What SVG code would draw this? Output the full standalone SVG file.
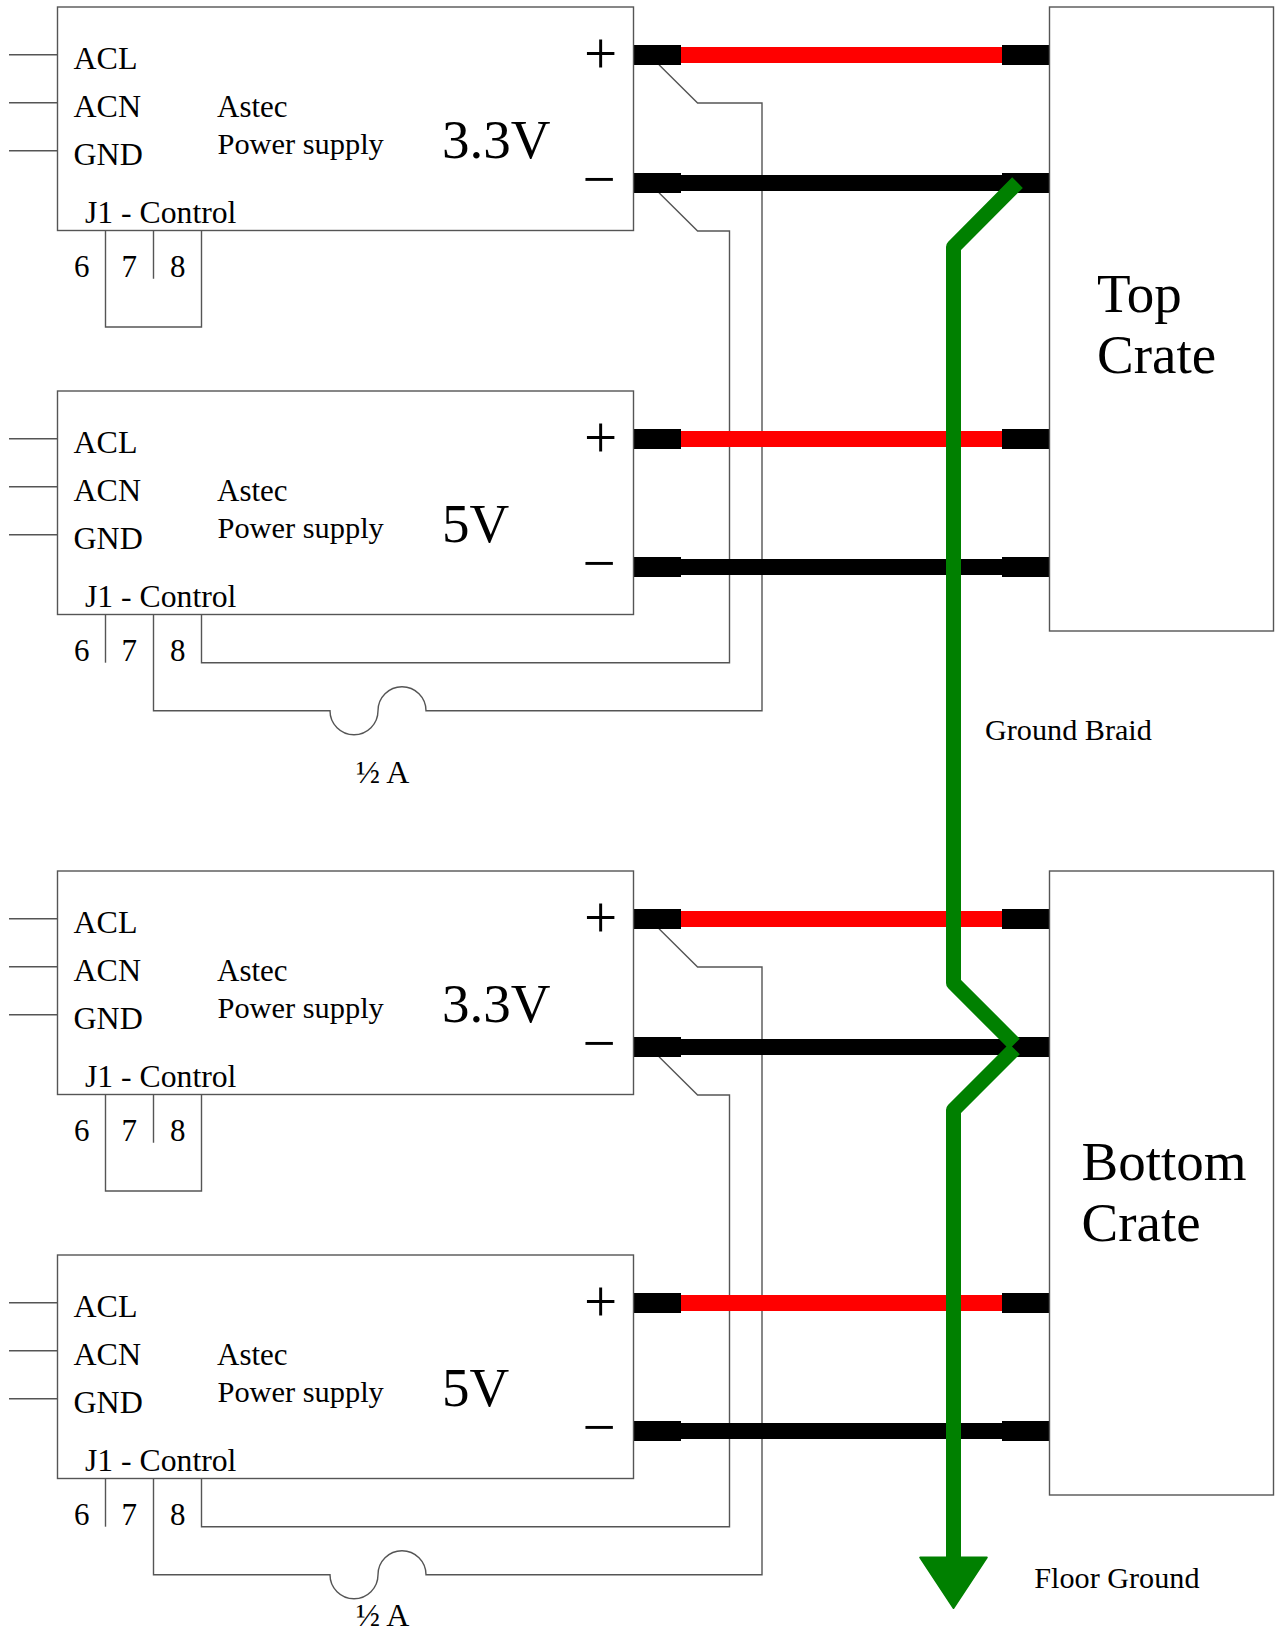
<svg xmlns="http://www.w3.org/2000/svg" width="1277" height="1633" viewBox="0 0 1277 1633">
<style>
text{font-family:"Liberation Serif","Times New Roman",serif;fill:#000}
.s{font-size:32px}
.j{font-size:31.7px}
.p{font-size:30.4px}
.a{font-size:31px}
.n{font-size:31px}
.b{font-size:55px}
.o{font-size:59px}
.l{font-size:30.2px}
.t{fill:none;stroke:#555;stroke-width:1.4}
.box{fill:#fff;stroke:#555;stroke-width:1.4}
.blk{fill:none;stroke:#000;stroke-width:16}
.red{fill:none;stroke:#f00;stroke-width:16}
.lug{fill:#000}
.gnd{fill:none;stroke:#008000;stroke-width:15;stroke-linejoin:round}
</style>
<rect width="1277" height="1633" fill="#fff"/>
<g id="connectors">
<g id="control-wires">
<path class="t" d="M659 64.7L697.6 103H762V710.7H426A24 24 0 0 0 378 710.7A24 24 0 0 1 330 710.7H153.5V614"/>
<path class="t" d="M659 192.7L697.6 231H729.5V662.7H201.5V614"/>
<path class="t" d="M659 928.7L697.6 967H762V1574.7H426A24 24 0 0 0 378 1574.7A24 24 0 0 1 330 1574.7H153.5V1478"/>
<path class="t" d="M659 1056.7L697.6 1095H729.5V1526.7H201.5V1478"/>
</g>
<g id="power-wires">
<path class="red" d="M681 55H1002M681 439H1002M681 919H1002M681 1303H1002"/>
<path class="blk" d="M681 183H1002M681 567H1002M681 1047H1002M681 1431H1002"/>
<g class="lug">
<rect x="633.5" y="45" width="47.5" height="20"/><rect x="1002" y="45" width="47.5" height="20"/>
<rect x="633.5" y="173" width="47.5" height="20"/><rect x="1002" y="173" width="47.5" height="20"/>
<rect x="633.5" y="429" width="47.5" height="20"/><rect x="1002" y="429" width="47.5" height="20"/>
<rect x="633.5" y="557" width="47.5" height="20"/><rect x="1002" y="557" width="47.5" height="20"/>
<rect x="633.5" y="909" width="47.5" height="20"/><rect x="1002" y="909" width="47.5" height="20"/>
<rect x="633.5" y="1037" width="47.5" height="20"/><rect x="1002" y="1037" width="47.5" height="20"/>
<rect x="633.5" y="1293" width="47.5" height="20"/><rect x="1002" y="1293" width="47.5" height="20"/>
<rect x="633.5" y="1421" width="47.5" height="20"/><rect x="1002" y="1421" width="47.5" height="20"/>
</g>
</g>
<g id="ground-braid">
<path class="gnd" d="M1017.5 182.6L953.5 247V983L1014.5 1044"/>
<path class="gnd" d="M1014.5 1049L953.5 1110V1558"/>
<path d="M920.2 1557.5H986.8L953.5 1608Z" fill="#008000" stroke="#008000" stroke-width="2" stroke-linejoin="round"/>
</g>
</g>
<g id="psu-top-33">
<path class="t" d="M9 54.7H57.5M9 102.7H57.5M9 150.7H57.5"/>
<rect class="box" x="57.5" y="7" width="576" height="223.5"/>
<path class="t" d="M105.5 230.5V327H201.5V230.5M153.5 230.5V278.7"/>
<text class="s" x="73.5" y="68.5">ACL</text><text class="s" x="73.5" y="116.5">ACN</text><text class="s" x="73.5" y="165">GND</text>
<text class="a" x="217" y="116.5">Astec</text><text class="p" x="217.5" y="153.5">Power supply</text>
<text class="b" x="442" y="157.5">3.3V</text>
<text class="o" x="584" y="73.3">+</text><text class="o" x="582.5" y="199.3">−</text>
<text class="j" x="85" y="222.7">J1 - Control</text>
<text class="n" x="74" y="276.7">6</text><text class="n" x="121.5" y="276.7">7</text><text class="n" x="170" y="276.7">8</text>
</g>
<g id="psu-top-5">
<path class="t" d="M9 438.7H57.5M9 486.7H57.5M9 534.7H57.5"/>
<rect class="box" x="57.5" y="391" width="576" height="223.5"/>
<path class="t" d="M105.5 614.5V662.7"/>
<text class="s" x="73.5" y="452.5">ACL</text><text class="s" x="73.5" y="500.5">ACN</text><text class="s" x="73.5" y="549">GND</text>
<text class="a" x="217" y="500.5">Astec</text><text class="p" x="217.5" y="537.5">Power supply</text>
<text class="b" x="442" y="541.5">5V</text>
<text class="o" x="584" y="457.3">+</text><text class="o" x="582.5" y="583.3">−</text>
<text class="j" x="85" y="606.7">J1 - Control</text>
<text class="n" x="74" y="660.7">6</text><text class="n" x="121.5" y="660.7">7</text><text class="n" x="170" y="660.7">8</text>
</g>
<g id="psu-bottom-33">
<path class="t" d="M9 918.7H57.5M9 966.7H57.5M9 1014.7H57.5"/>
<rect class="box" x="57.5" y="871" width="576" height="223.5"/>
<path class="t" d="M105.5 1094.5V1191H201.5V1094.5M153.5 1094.5V1142.7"/>
<text class="s" x="73.5" y="932.5">ACL</text><text class="s" x="73.5" y="980.5">ACN</text><text class="s" x="73.5" y="1029">GND</text>
<text class="a" x="217" y="980.5">Astec</text><text class="p" x="217.5" y="1017.5">Power supply</text>
<text class="b" x="442" y="1021.5">3.3V</text>
<text class="o" x="584" y="937.3">+</text><text class="o" x="582.5" y="1063.3">−</text>
<text class="j" x="85" y="1086.7">J1 - Control</text>
<text class="n" x="74" y="1140.7">6</text><text class="n" x="121.5" y="1140.7">7</text><text class="n" x="170" y="1140.7">8</text>
</g>
<g id="psu-bottom-5">
<path class="t" d="M9 1302.7H57.5M9 1350.7H57.5M9 1398.7H57.5"/>
<rect class="box" x="57.5" y="1255" width="576" height="223.5"/>
<path class="t" d="M105.5 1478.5V1526.7"/>
<text class="s" x="73.5" y="1316.5">ACL</text><text class="s" x="73.5" y="1364.5">ACN</text><text class="s" x="73.5" y="1413">GND</text>
<text class="a" x="217" y="1364.5">Astec</text><text class="p" x="217.5" y="1401.5">Power supply</text>
<text class="b" x="442" y="1405.5">5V</text>
<text class="o" x="584" y="1321.3">+</text><text class="o" x="582.5" y="1447.3">−</text>
<text class="j" x="85" y="1470.7">J1 - Control</text>
<text class="n" x="74" y="1524.7">6</text><text class="n" x="121.5" y="1524.7">7</text><text class="n" x="170" y="1524.7">8</text>
</g>
<g id="crate-top">
<rect class="box" x="1049.5" y="7" width="224" height="624"/>
<text class="b" x="1097" y="311.5">Top</text><text class="b" x="1097" y="373">Crate</text>
</g>
<g id="crate-bottom">
<rect class="box" x="1049.5" y="871" width="224" height="624"/>
<text class="b" x="1081.5" y="1180">Bottom</text><text class="b" x="1081.5" y="1241">Crate</text>
</g>
<g id="labels">
<text class="s" x="356" y="783.3">½ A</text>
<text class="s" x="356" y="1625.5">½ A</text>
<text class="l" x="985" y="740">Ground Braid</text>
<text class="l" x="1034.3" y="1588">Floor Ground</text>
</g>
</svg>
